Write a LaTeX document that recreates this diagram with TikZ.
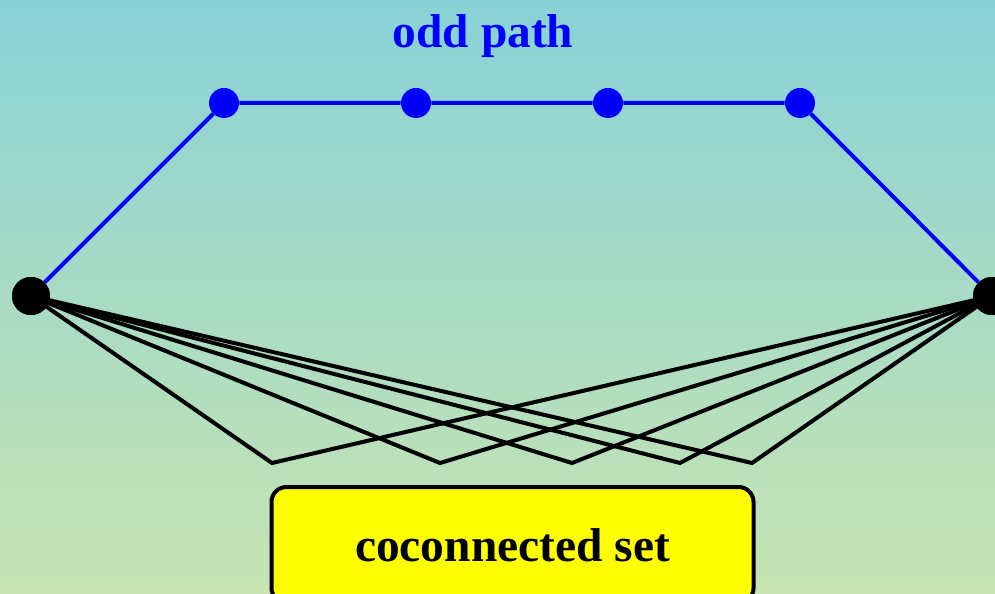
\documentclass[tikz,border=0pt]{standalone}
\usepackage{fontspec}
\setmainfont{Liberation Serif}
\usetikzlibrary{calc}
\definecolor{topteal}{RGB}{136,210,214}
\definecolor{bottomgreen}{RGB}{200,228,178}
\definecolor{boxyellow}{RGB}{255,255,0}

\begin{document}
\begin{tikzpicture}[
        bigdot/.style = {circle, fill=black, inner sep=0pt, minimum size=0.76cm},
        pathdot/.style = {circle, fill=blue, inner sep=0pt, minimum size=0.6cm},
        edge/.style = {line width=0.08cm}]
        \useasboundingbox (0,0) rectangle (19.9,11.86);
        \shade[top color=topteal, bottom color=bottomgreen] (0,0) rectangle (19.9,11.86);
        % end points of the odd path
        \node[bigdot] (L) at (0.62,5.94) {};
        \node[bigdot] (R) at (19.84,5.94) {};
        % inner vertices of the path
        \node[pathdot] (P1) at (4.48,9.8) {};
        \node[pathdot] (P2) at (8.32,9.8) {};
        \node[pathdot] (P3) at (12.16,9.8) {};
        \node[pathdot] (P4) at (16,9.8) {};
        \draw[edge, blue] (L)--(P1)--(P2)--(P3)--(P4)--(R);
        \node[blue] (title) at (9.66,11.14) {\fontsize{27}{32}\selectfont\bfseries odd path};
        % the set
        \foreach \i/\x in {1/5.44, 2/8.8, 3/11.44, 4/13.6, 5/15.04}{
            \coordinate (S\i) at (\x,2.6);
            \draw[edge] (L.center)--(S\i)--(R.center);
        }
        \node[draw, edge, fill=boxyellow, rounded corners=0.3cm, minimum width=9.64cm, minimum height=2.32cm] (set) at (10.25,0.96) {\fontsize{27}{32}\selectfont\bfseries coconnected set};
        \fill (L) circle (0.38);
        \fill (R) circle (0.38);
\end{tikzpicture}
\end{document}
